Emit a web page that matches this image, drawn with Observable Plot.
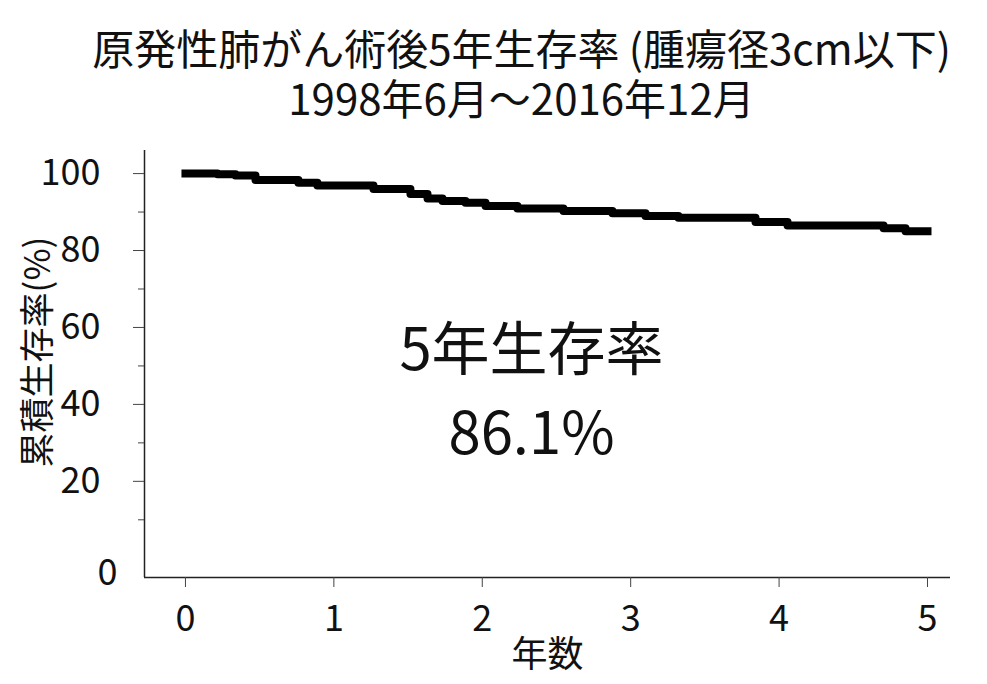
<!DOCTYPE html>
<html>
<head>
<meta charset="utf-8">
<script src="https://cdn.jsdelivr.net/npm/d3@7"></script>
<script src="https://cdn.jsdelivr.net/npm/@observablehq/plot@0.6"></script>
<style>
  body { margin: 0; background: #fff; font-family: "Noto Sans CJK JP", "Noto Sans", sans-serif; }
  #wrap { width: 987px; height: 684px; overflow: hidden; }
  #title { height: 130px; width: 987px; box-sizing: border-box; padding-top: 22px; padding-left: 56px;
           text-align: center; font-size: 42px; line-height: 50px; color: #111; }
</style>
</head>
<body>
<div id="wrap">
  <div id="title">原発性肺がん術後5年生存率 (腫瘍径3cm以下)<br>1998年6月～2016年12月</div>
  <div id="chart"></div>
</div>
<script>
// Kaplan–Meier step values
const years    = [0, 0.216, 0.337, 0.472, 0.761, 0.889, 1.267, 1.516, 1.631, 1.732, 1.887, 2.022, 2.237, 2.547, 2.877, 3.100, 3.322, 3.841, 4.057, 4.704, 4.852, 5.0];
const survival = [100, 99.8, 99.5, 98.3, 97.6, 96.9, 96.0, 94.7, 93.5, 92.9, 92.4, 91.6, 90.9, 90.3, 89.7, 89.0, 88.5, 87.4, 86.5, 85.8, 85.0, 85.0];

const xTicks = [0, 1, 2, 3, 4, 5];
const yTicks = [20, 40, 60, 80, 100];
const yMinorTicks = [10, 30, 50, 70, 90];
const xDomain = [-0.276, 5.155];
const yDomain = [-5, 106];

const yLabel = "累積生存率(%)";
const xLabel = "年数";
const zeroLabel = "0";
const annotation = "5年生存率\n86.1%";

const data = years.map((t, i) => ({t, s: survival[i]}));
const font = '"Noto Sans CJK JP", "Noto Sans", sans-serif';

const chart = Plot.plot({
  width: 987,
  height: 554,
  marginLeft: 144,
  marginRight: 37,
  marginTop: 20,
  marginBottom: 107,
  style: { fontFamily: font, background: "#fff", color: "#111", overflow: "visible" },
  x: { domain: xDomain },
  y: { domain: yDomain },
  marks: [
    Plot.ruleX([xDomain[0]], { stroke: "#222", strokeWidth: 1.5 }),
    Plot.ruleY([yDomain[0]], { stroke: "#222", strokeWidth: 1.5 }),
    Plot.axisY({ ticks: yTicks, tickSize: 11, tickPadding: 33, fontSize: 36, label: null, stroke: "#444", tickFormat: d => String(d) }),
    Plot.axisY({ ticks: yMinorTicks, tickSize: 6, tickFormat: () => "", label: null, stroke: "#444" }),
    Plot.text([zeroLabel], { frameAnchor: "bottom-left", textAnchor: "end", lineAnchor: "middle", dx: -27, dy: -4, fontSize: 36, fill: "#111" }),
    Plot.axisX({ ticks: xTicks, tickSize: 10, tickPadding: 18, fontSize: 36, label: null, stroke: "#444", tickFormat: d => String(d) }),
    Plot.text([xLabel], { frameAnchor: "bottom", lineAnchor: "middle", dy: 78, fontSize: 36, fill: "#111" }),
    Plot.text([yLabel], { frameAnchor: "left", textAnchor: "middle", lineAnchor: "middle", dx: -106, dy: -12, rotate: -90, fontSize: 35, fill: "#111" }),
    Plot.text([annotation], { frameAnchor: "middle", lineAnchor: "middle", lineHeight: 1.45, dx: -16, dy: 21, fontSize: 58, fill: "#111" }),
    Plot.line(data, { x: "t", y: "s", curve: "step-after", stroke: "#000", strokeWidth: 8, strokeLinecap: "square" })
  ]
});
document.getElementById("chart").appendChild(chart);
</script>
</body>
</html>
